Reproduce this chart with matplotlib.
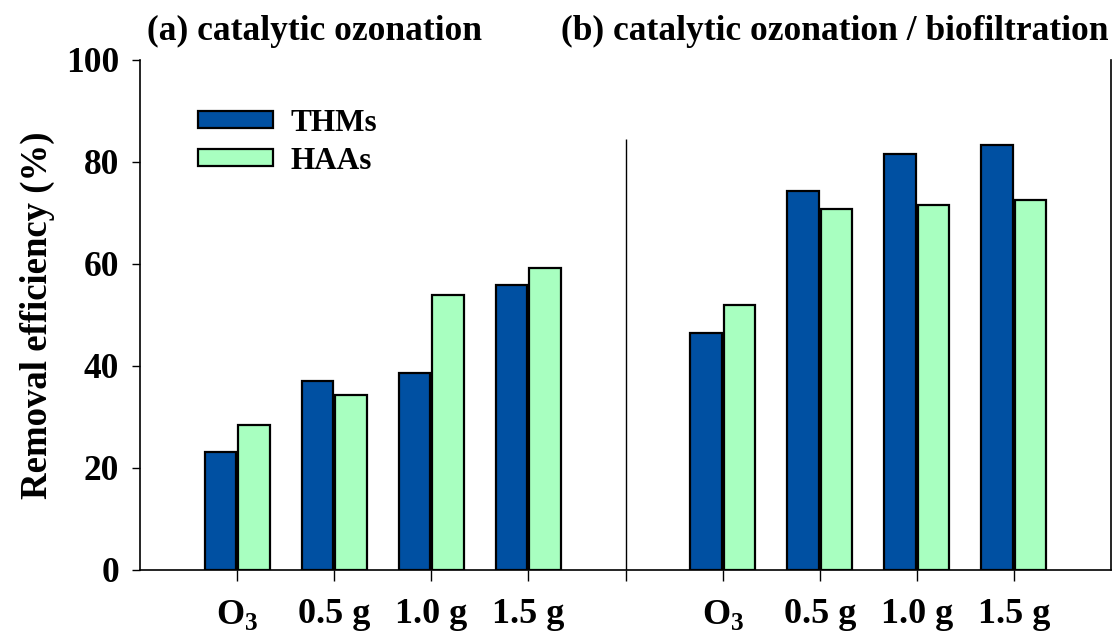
import matplotlib
matplotlib.use('Agg')
import matplotlib.pyplot as plt
import numpy as np

plt.rcParams['font.family'] = ['Liberation Serif', 'DejaVu Serif']
plt.rcParams['font.weight'] = 'bold'
plt.rcParams['mathtext.fontset'] = 'custom'
plt.rcParams['mathtext.rm'] = 'Liberation Serif:bold'
plt.rcParams['mathtext.bf'] = 'Liberation Serif:bold'

# data
doses = [r'O$_3$', '0.5 g', '1.0 g', '1.5 g']
thms_a = [23.2, 37.1, 38.7, 55.9]
haas_a = [28.5, 34.4, 54.0, 59.3]
thms_b = [46.5, 74.3, 81.5, 83.4]
haas_b = [52.0, 70.7, 71.6, 72.5]

pos_a = np.arange(1, 5)
pos_b = np.arange(6, 10)
width = 0.325
off = 0.172

fig = plt.figure(figsize=(11.14, 6.36), dpi=100)
ax = fig.add_axes([0.1257, 0.1038, 0.8716, 0.8019])

blue = '#0050A2'
green = '#A8FFC0'
ax.bar(pos_a - off, thms_a, width, color=blue, edgecolor='black', linewidth=1.6, label='THMs')
ax.bar(pos_a + off, haas_a, width, color=green, edgecolor='black', linewidth=1.6, label='HAAs')
ax.bar(pos_b - off, thms_b, width, color=blue, edgecolor='black', linewidth=1.6)
ax.bar(pos_b + off, haas_b, width, color=green, edgecolor='black', linewidth=1.6)

# divider between the two panels
ax.vlines(5, 0, 84.5, color='black', linewidth=1)

ax.set_xlim(0, 10)
ax.set_ylim(0, 100)
ax.set_yticks(range(0, 101, 20))
ax.set_xticks(list(pos_a) + [5] + list(pos_b))
ax.set_xticklabels(doses + [''] + doses)
ax.tick_params(axis='y', labelsize=25.5, length=6, width=1, pad=9)
ax.tick_params(axis='x', labelsize=26, length=8, width=1, pad=12)
for lab in ax.get_xticklabels() + ax.get_yticklabels():
    lab.set_fontweight('bold')

ax.spines['top'].set_visible(False)
ax.spines['bottom'].set_linewidth(1.2)
ax.spines['left'].set_linewidth(1.2)
ax.spines['right'].set_linewidth(1.2)

ax.set_ylabel('Removal efficiency (%)', fontsize=26.5, fontweight='bold', labelpad=8)

ax.legend(loc='upper left', bbox_to_anchor=(0.031, 0.96), frameon=False,
          prop={'size': 22.5, 'weight': 'bold'}, handlelength=2.4, handleheight=0.48,
          handletextpad=0.55, labelspacing=0.3)

fig.text(0.282, 0.951, '(a) catalytic ozonation', fontsize=25.5, fontweight='bold',
         ha='center', va='center')
fig.text(0.749, 0.951, '(b) catalytic ozonation / biofiltration', fontsize=25.5,
         fontweight='bold', ha='center', va='center')

fig.savefig('out.png', dpi=100)
